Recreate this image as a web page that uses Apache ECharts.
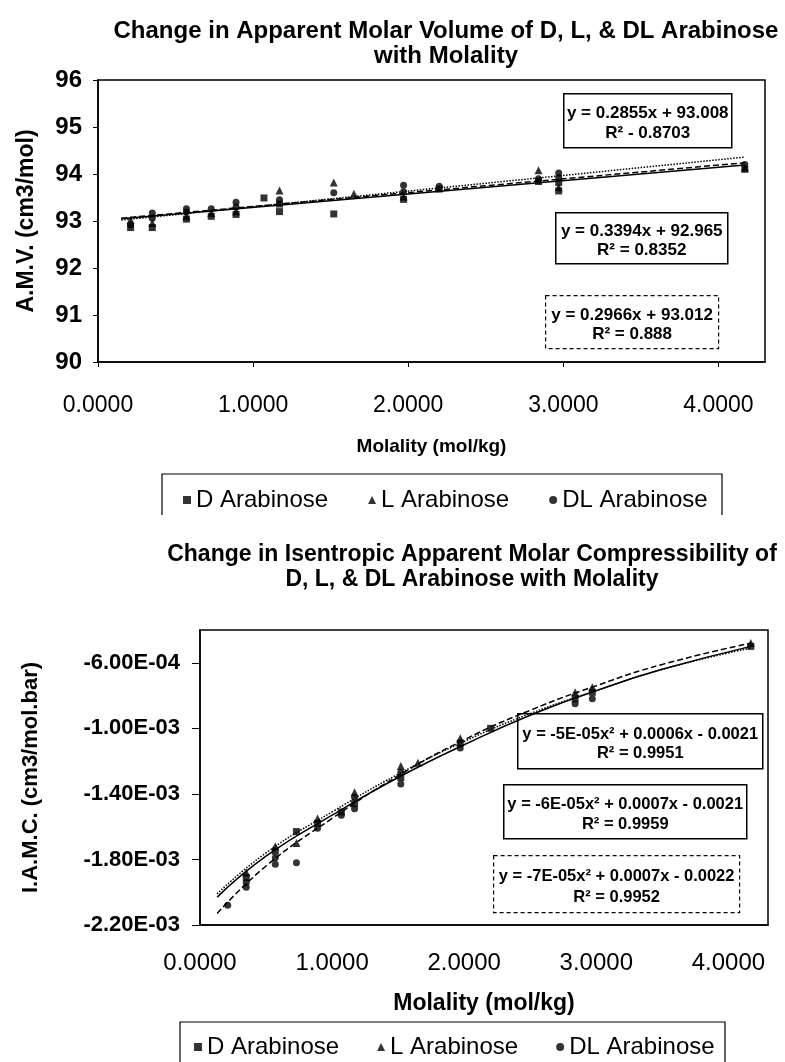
<!DOCTYPE html>
<html>
<head>
<meta charset="UTF-8">
<title>Arabinose AMV / IAMC</title>
<script src="https://cdn.jsdelivr.net/npm/echarts@6/dist/echarts.min.js"></script>
</head>
<body style="margin:0;background:#fff">
<div id="container" style="width:785px;height:1062px"></div>
<script>
// ---- top chart: apparent molar volume (cm3/mol) vs molality ----
var volDMolality = [0.21, 0.35, 0.57, 0.73, 0.89, 1.07, 1.17, 1.17, 1.52, 1.97, 2.20, 2.84, 2.97, 2.97, 4.17];
var volD = [92.86, 92.86, 93.04, 93.10, 93.14, 93.49, 93.20, 93.36, 93.15, 93.46, 93.68, 93.84, 93.64, 93.82, 94.10];
var volLMolality = [0.21, 0.35, 0.57, 0.73, 0.89, 1.17, 1.52, 1.65, 1.97, 2.84, 2.97, 4.17];
var volL = [93.02, 92.96, 93.10, 93.17, 93.21, 93.65, 93.82, 93.58, 93.52, 94.08, 93.72, 94.14];
var volDLMolality = [0.21, 0.35, 0.35, 0.57, 0.57, 0.73, 0.89, 0.89, 1.17, 1.52, 1.97, 1.97, 2.20, 2.84, 2.97, 2.97, 4.17];
var volDL = [92.92, 93.06, 93.17, 93.19, 93.26, 93.26, 93.30, 93.40, 93.45, 93.60, 93.62, 93.76, 93.74, 93.90, 93.92, 94.02, 94.20];

// trend lines
var volFitX = [0.15, 4.17];
var volFitD = [93.05, 94.19];
var volFitL = [93.02, 94.36];
var volFitDL = [93.06, 94.24];

// ---- bottom chart: isentropic apparent molar compressibility ----
var compDMolality = [0.35, 0.57, 0.73, 0.89, 1.07, 1.17, 1.52, 1.97, 2.20, 2.84, 2.97, 4.17];
var compD = [-0.00191, -0.00175, -0.00163, -0.00158, -0.00151, -0.00146, -0.00130, -0.00109, -0.00100, -0.00082, -0.00078, -0.00050];
var compLMolality = [0.35, 0.57, 0.73, 0.89, 1.17, 1.52, 1.65, 1.97, 2.84, 2.97, 4.17];
var compL = [-0.00188, -0.00172, -0.00170, -0.00155, -0.00139, -0.00123, -0.00121, -0.00106, -0.00078, -0.00075, -0.00048];
var compDLMolality = [0.21, 0.35, 0.35, 0.57, 0.57, 0.73, 0.89, 1.07, 1.17, 1.17, 1.52, 1.52, 1.97, 2.84, 2.97];
var compDL = [-0.00208, -0.00194, -0.00197, -0.00179, -0.00183, -0.00182, -0.00161, -0.00153, -0.00142, -0.00149, -0.00127, -0.00134, -0.00112, -0.00085, -0.00082];

var compFitX = [0.13, 0.5, 1.0, 1.5, 2.0, 2.5, 3.0, 3.5, 4.17];
var compFitD = [-0.00203, -0.00178, -0.00153, -0.00130, -0.00110, -0.00092, -0.00077, -0.00064, -0.00050];
var compFitL = [-0.00201, -0.00176, -0.00151, -0.00128, -0.00108, -0.00091, -0.00077, -0.00064, -0.00051];
var compFitDL = [-0.00213, -0.00184, -0.00155, -0.00129, -0.00107, -0.00089, -0.00074, -0.00061, -0.00048];

var seriesNames = ['D Arabinose', 'L Arabinose', 'DL Arabinose'];
var xTicks = [0, 1, 2, 3, 4];

var volEquations = [
  ['y = 0.2855x + 93.008', 'R² - 0.8703'],
  ['y = 0.3394x + 92.965', 'R² = 0.8352'],
  ['y = 0.2966x + 93.012', 'R² = 0.888']
];
var compEquations = [
  ['y = -5E-05x² + 0.0006x - 0.0021', 'R² = 0.9951'],
  ['y = -6E-05x² + 0.0007x - 0.0021', 'R² = 0.9959'],
  ['y = -7E-05x² + 0.0007x - 0.0022', 'R² = 0.9952']
];

function pairs(xs, ys) {
  return xs.map(function (x, i) { return [x, ys[i]]; });
}

var FONT = '"Liberation Sans", Arial, sans-serif';

function points(name, xs, ys, idx, symbol, size) {
  return {
    name: name, type: 'scatter', xAxisIndex: idx, yAxisIndex: idx,
    symbol: symbol, symbolSize: size, z: 3,
    itemStyle: { color: '#000' },
    data: pairs(xs, ys)
  };
}

function trend(xs, ys, idx, style, smooth) {
  return {
    name: 'trend', type: 'line', xAxisIndex: idx, yAxisIndex: idx,
    symbol: 'none', smooth: smooth, silent: true, z: 2,
    lineStyle: { color: '#000', width: 1.5, type: style },
    data: pairs(xs, ys)
  };
}

// equation label boxes
function eqBox(x, y, w, h, lines, dashed, size) {
  return {
    type: 'group', left: x, top: y,
    children: [
      { type: 'rect', shape: { x: 0, y: 0, width: w, height: h },
        style: { fill: '#fff', stroke: '#000', lineWidth: dashed ? 1.2 : 1.5, lineDash: dashed ? [4, 3] : null } },
      { type: 'text', x: w / 2, y: h * 0.37,
        style: { text: lines[0], font: 'bold ' + size + 'px ' + FONT, fill: '#000', align: 'center', verticalAlign: 'middle' } },
      { type: 'text', x: w / 2, y: h * 0.73,
        style: { text: lines[1], font: 'bold ' + size + 'px ' + FONT, fill: '#000', align: 'center', verticalAlign: 'middle' } }
    ]
  };
}

// legend frame: top line and the two sides
function legendFrame(x1, x2, y1, y2) {
  return {
    type: 'polyline', silent: true,
    shape: { points: [[x1, y2], [x1, y1], [x2, y1], [x2, y2]] },
    style: { stroke: '#000', lineWidth: 1.2, fill: null }
  };
}

var dom = document.getElementById('container');
var myChart = echarts.init(dom, null, { renderer: 'canvas' });

var option = {
  backgroundColor: '#fff',
  animation: false,
  title: [
    {
      text: 'Change in Apparent Molar Volume of D, L, & DL Arabinose\nwith Molality',
      left: 441, top: 14, textAlign: 'center',
      textStyle: { fontFamily: FONT, fontWeight: 'bold', fontSize: 24, lineHeight: 25, color: '#000' }
    },
    {
      text: 'Change in Isentropic Apparent Molar Compressibility of\nD, L, & DL Arabinose with Molality',
      left: 467, top: 537, textAlign: 'center',
      textStyle: { fontFamily: FONT, fontWeight: 'bold', fontSize: 23, lineHeight: 25, color: '#000' }
    }
  ],
  grid: [
    { left: 98, top: 80, width: 667, height: 282, show: true, borderColor: '#000', borderWidth: 1.5 },
    { left: 200, top: 630, width: 568, height: 295, show: true, borderColor: '#000', borderWidth: 1.5 }
  ],
  legend: [
    {
      data: seriesNames, left: 178, top: 483, itemGap: 40, itemWidth: 8, itemHeight: 8,
      textStyle: { fontFamily: FONT, fontSize: 24, color: '#000' }
    },
    {
      data: seriesNames, left: 189, top: 1030, itemGap: 38, itemWidth: 8, itemHeight: 8,
      textStyle: { fontFamily: FONT, fontSize: 24, color: '#000' }
    }
  ],
  xAxis: [
    {
      type: 'value', gridIndex: 0, min: 0, max: 4.3, interval: 1,
      name: 'Molality (mol/kg)', nameLocation: 'middle', nameGap: 75,
      nameTextStyle: { fontFamily: FONT, fontWeight: 'bold', fontSize: 19, color: '#000' },
      axisLine: { lineStyle: { color: '#000', width: 1.5 } },
      axisTick: { length: 5, lineStyle: { color: '#000' } },
      splitLine: { show: false },
      axisLabel: {
        margin: 32, fontFamily: FONT, fontSize: 23, color: '#000', showMaxLabel: false,
        formatter: function (v) { return xTicks.indexOf(v) >= 0 ? v.toFixed(4) : ''; }
      }
    },
    {
      type: 'value', gridIndex: 1, min: 0, max: 4.3, interval: 1,
      name: 'Molality (mol/kg)', nameLocation: 'middle', nameGap: 67,
      nameTextStyle: { fontFamily: FONT, fontWeight: 'bold', fontSize: 23, color: '#000' },
      axisLine: { lineStyle: { color: '#000', width: 1.5 } },
      axisTick: { show: false },
      splitLine: { show: false },
      axisLabel: {
        margin: 26, fontFamily: FONT, fontSize: 24, color: '#000', showMaxLabel: false,
        formatter: function (v) { return xTicks.indexOf(v) >= 0 ? v.toFixed(4) : ''; }
      }
    }
  ],
  yAxis: [
    {
      type: 'value', gridIndex: 0, min: 90, max: 96, interval: 1,
      name: 'A.M.V. (cm3/mol)', nameLocation: 'middle', nameGap: 60, nameRotate: 90,
      nameTextStyle: { fontFamily: FONT, fontWeight: 'bold', fontSize: 23, color: '#000' },
      axisLine: { show: true, lineStyle: { color: '#000', width: 1.5 } },
      axisTick: { show: true, length: 5, lineStyle: { color: '#000' } },
      splitLine: { show: false },
      axisLabel: { margin: 16, fontFamily: FONT, fontWeight: 'bold', fontSize: 24, color: '#000' }
    },
    {
      type: 'value', gridIndex: 1, min: -0.0022, max: -0.0004, interval: 0.0004,
      name: 'I.A.M.C. (cm3/mol.bar)', nameLocation: 'middle', nameGap: 158, nameRotate: 90,
      nameTextStyle: { fontFamily: FONT, fontWeight: 'bold', fontSize: 22, color: '#000' },
      axisLine: { show: true, lineStyle: { color: '#000', width: 1.5 } },
      axisTick: { show: true, length: 8, lineStyle: { color: '#000' } },
      splitLine: { show: false },
      axisLabel: {
        margin: 20, fontFamily: FONT, fontWeight: 'bold', fontSize: 22, color: '#000', showMaxLabel: false,
        formatter: function (v) {
          return v.toExponential(2).toUpperCase().replace(/E([+-])(\d)$/, 'E$10$2');
        }
      }
    }
  ],
  graphic: [
    eqBox(563, 93, 168, 54, volEquations[0], false, 17),
    eqBox(555, 212, 172, 51, volEquations[1], false, 17),
    eqBox(545, 295, 173, 53, volEquations[2], true, 17),
    eqBox(517, 713, 245, 55, compEquations[0], false, 16.5),
    eqBox(503, 784, 243, 54, compEquations[1], false, 16.5),
    eqBox(493, 855, 246, 57, compEquations[2], true, 16.5),
    legendFrame(162, 722, 474, 515),
    legendFrame(180, 725, 1022, 1062)
  ],
  series: [
    trend(volFitX, volFitD, 0, 'solid', false),
    trend(volFitX, volFitL, 0, 'dotted', false),
    trend(volFitX, volFitDL, 0, 'dashed', false),
    points(seriesNames[0], volDMolality, volD, 0, 'rect', 7),
    points(seriesNames[1], volLMolality, volL, 0, 'triangle', 8),
    points(seriesNames[2], volDLMolality, volDL, 0, 'circle', 7),
    trend(compFitX, compFitD, 1, 'solid', true),
    trend(compFitX, compFitL, 1, 'dotted', true),
    trend(compFitX, compFitDL, 1, 'dashed', true),
    points(seriesNames[0], compDMolality, compD, 1, 'rect', 7),
    points(seriesNames[1], compLMolality, compL, 1, 'triangle', 8),
    points(seriesNames[2], compDLMolality, compDL, 1, 'circle', 7)
  ]
};

myChart.setOption(option);
window.addEventListener('resize', myChart.resize);
</script>
</body>
</html>
